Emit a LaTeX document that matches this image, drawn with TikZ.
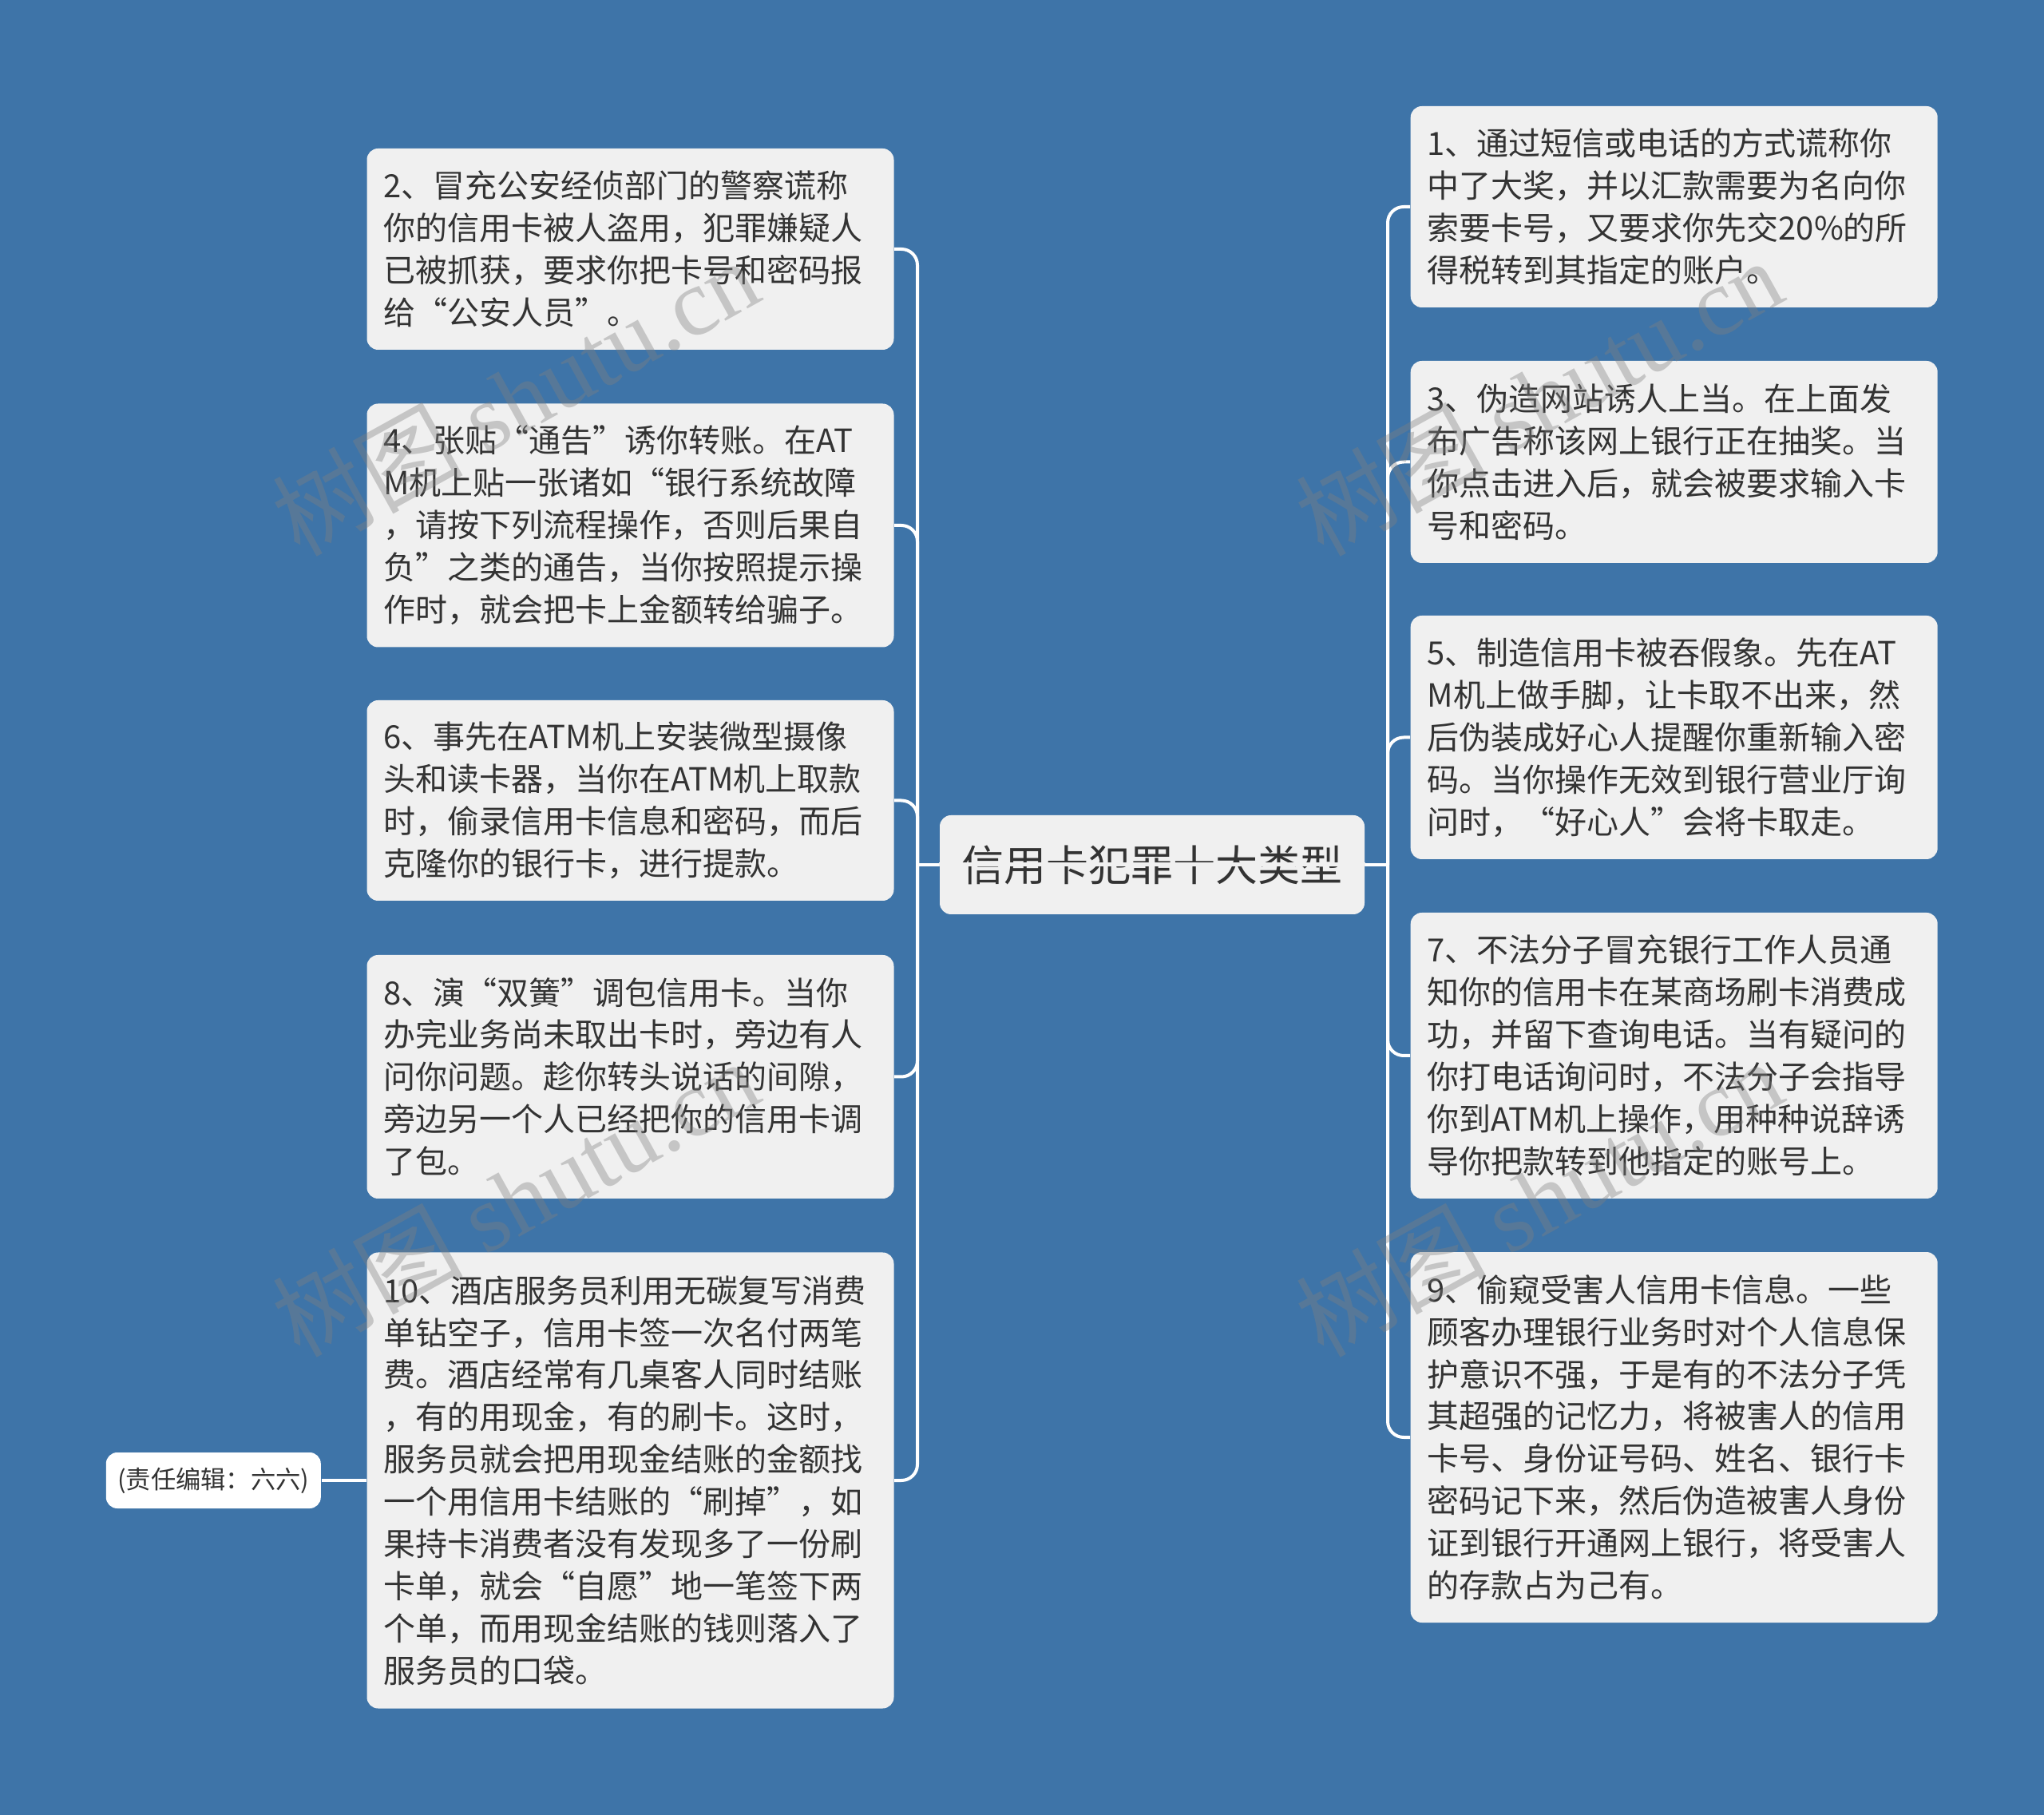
\documentclass[tikz,border=0pt]{standalone}
\usepackage{fontspec}
\setmainfont{Noto Sans CJK SC}
\newfontfamily\markfont{Liberation Serif}
\definecolor{pagebg}{HTML}{3E74A8}
\definecolor{cardbg}{HTML}{F0F0F0}
\definecolor{inkc}{HTML}{333333}
\tikzset{
    card/.style={fill=cardbg, text=inkc, rounded corners=0.14cm, minimum width=6.6cm, text width=6.18cm, inner xsep=0.21cm, inner ysep=0pt, align=left, font=\fontsize{11.38pt}{15.05pt}\selectfont},
    link/.style={draw=white, line width=0.04cm, rounded corners=0.2cm},
    stamp/.style={text=gray, opacity=0.38, rotate=29, font=\fontsize{34pt}{34pt}\selectfont}
}
\begin{document}
\begin{tikzpicture}[x=1cm,y=1cm]
    \fill[pagebg] (0,0) rectangle (25.6,-22.73);

    \coordinate (lhub) at (11.49,-10.83);
    \coordinate (rhub) at (17.38,-10.83);

    \node[card, minimum height=1.24cm, minimum width=5.32cm, text width=4.9cm, align=center, font=\fontsize{15.1pt}{18pt}\selectfont] (core) at (14.43,-10.83) {信用卡犯罪十大类型};
    \draw[draw=cardbg, line width=0.05cm] (core.west) -- (core.east);

    \node[card, minimum height=2.52cm] (l2) at (7.895,-3.12) {2、冒充公安经侦部门的警察谎称\\你的信用卡被人盗用，犯罪嫌疑人\\已被抓获，要求你把卡号和密码报\\给“公安人员”。};
    \node[card, minimum height=3.05cm] (l4) at (7.895,-6.58) {4、张贴“通告”诱你转账。在AT\\M机上贴一张诸如“银行系统故障\\，请按下列流程操作，否则后果自\\负”之类的通告，当你按照提示操\\作时，就会把卡上金额转给骗子。};
    \node[card, minimum height=2.51cm] (l6) at (7.895,-10.025) {6、事先在ATM机上安装微型摄像\\头和读卡器，当你在ATM机上取款\\时，偷录信用卡信息和密码，而后\\克隆你的银行卡，进行提款。};
    \node[card, minimum height=3.05cm] (l8) at (7.895,-13.485) {8、演“双簧”调包信用卡。当你\\办完业务尚未取出卡时，旁边有人\\问你问题。趁你转头说话的间隙，\\旁边另一个人已经把你的信用卡调\\了包。};
    \node[card, minimum height=5.71cm] (l10) at (7.895,-18.54) {10、酒店服务员利用无碳复写消费\\单钻空子，信用卡签一次名付两笔\\费。酒店经常有几桌客人同时结账\\，有的用现金，有的刷卡。这时，\\服务员就会把用现金结账的金额找\\一个用信用卡结账的“刷掉”，如\\果持卡消费者没有发现多了一份刷\\卡单，就会“自愿”地一笔签下两\\个单，而用现金结账的钱则落入了\\服务员的口袋。};

    \node[card, minimum height=2.52cm] (r1) at (20.967,-2.59) {1、通过短信或电话的方式谎称你\\中了大奖，并以汇款需要为名向你\\索要卡号，又要求你先交20\%的所\\得税转到其指定的账户。};
    \node[card, minimum height=2.53cm] (r3) at (20.967,-5.785) {3、伪造网站诱人上当。在上面发\\布广告称该网上银行正在抽奖。当\\你点击进入后，就会被要求输入卡\\号和密码。};
    \node[card, minimum height=3.05cm] (r5) at (20.967,-9.235) {5、制造信用卡被吞假象。先在AT\\M机上做手脚，让卡取不出来，然\\后伪装成好心人提醒你重新输入密\\码。当你操作无效到银行营业厅询\\问时，“好心人”会将卡取走。};
    \node[card, minimum height=3.58cm] (r7) at (20.967,-13.22) {7、不法分子冒充银行工作人员通\\知你的信用卡在某商场刷卡消费成\\功，并留下查询电话。当有疑问的\\你打电话询问时，不法分子会指导\\你到ATM机上操作，用种种说辞诱\\导你把款转到他指定的账号上。};
    \node[card, minimum height=4.64cm] (r9) at (20.967,-18.0) {9、偷窥受害人信用卡信息。一些\\顾客办理银行业务时对个人信息保\\护意识不强，于是有的不法分子凭\\其超强的记忆力，将被害人的信用\\卡号、身份证号码、姓名、银行卡\\密码记下来，然后伪造被害人身份\\证到银行开通网上银行，将受害人\\的存款占为己有。};

    \node[card, fill=white, minimum height=0.70cm, minimum width=2.69cm, text width=2.6cm, inner xsep=0pt, align=center, font=\fontsize{8.9pt}{11pt}\selectfont] (note) at (2.673,-18.54) {(责任编辑：六六)};

    \draw[link] (lhub) -- (core.west);
    \draw[link] (rhub) -- (core.east);
    \draw[link] (lhub) |- (l2.east);
    \draw[link] (lhub) |- (l4.east);
    \draw[link] (lhub) |- (l6.east);
    \draw[link] (lhub) |- (l8.east);
    \draw[link] (lhub) |- (l10.east);
    \draw[link] (rhub) |- (r1.west);
    \draw[link] (rhub) |- (r3.west);
    \draw[link] (rhub) |- (r5.west);
    \draw[link] (rhub) |- (r7.west);
    \draw[link] (rhub) |- (r9.west);
    \draw[link] (note) -- (l10);

    \node[stamp] (mark1) at (6.45,-4.97) {树图 {\markfont shutu.cn}};
    \node[stamp] (mark2) at (19.27,-4.97) {树图 {\markfont shutu.cn}};
    \node[stamp] (mark3) at (6.45,-15.0) {树图 {\markfont shutu.cn}};
    \node[stamp] (mark4) at (19.27,-15.0) {树图 {\markfont shutu.cn}};
\end{tikzpicture}
\end{document}
